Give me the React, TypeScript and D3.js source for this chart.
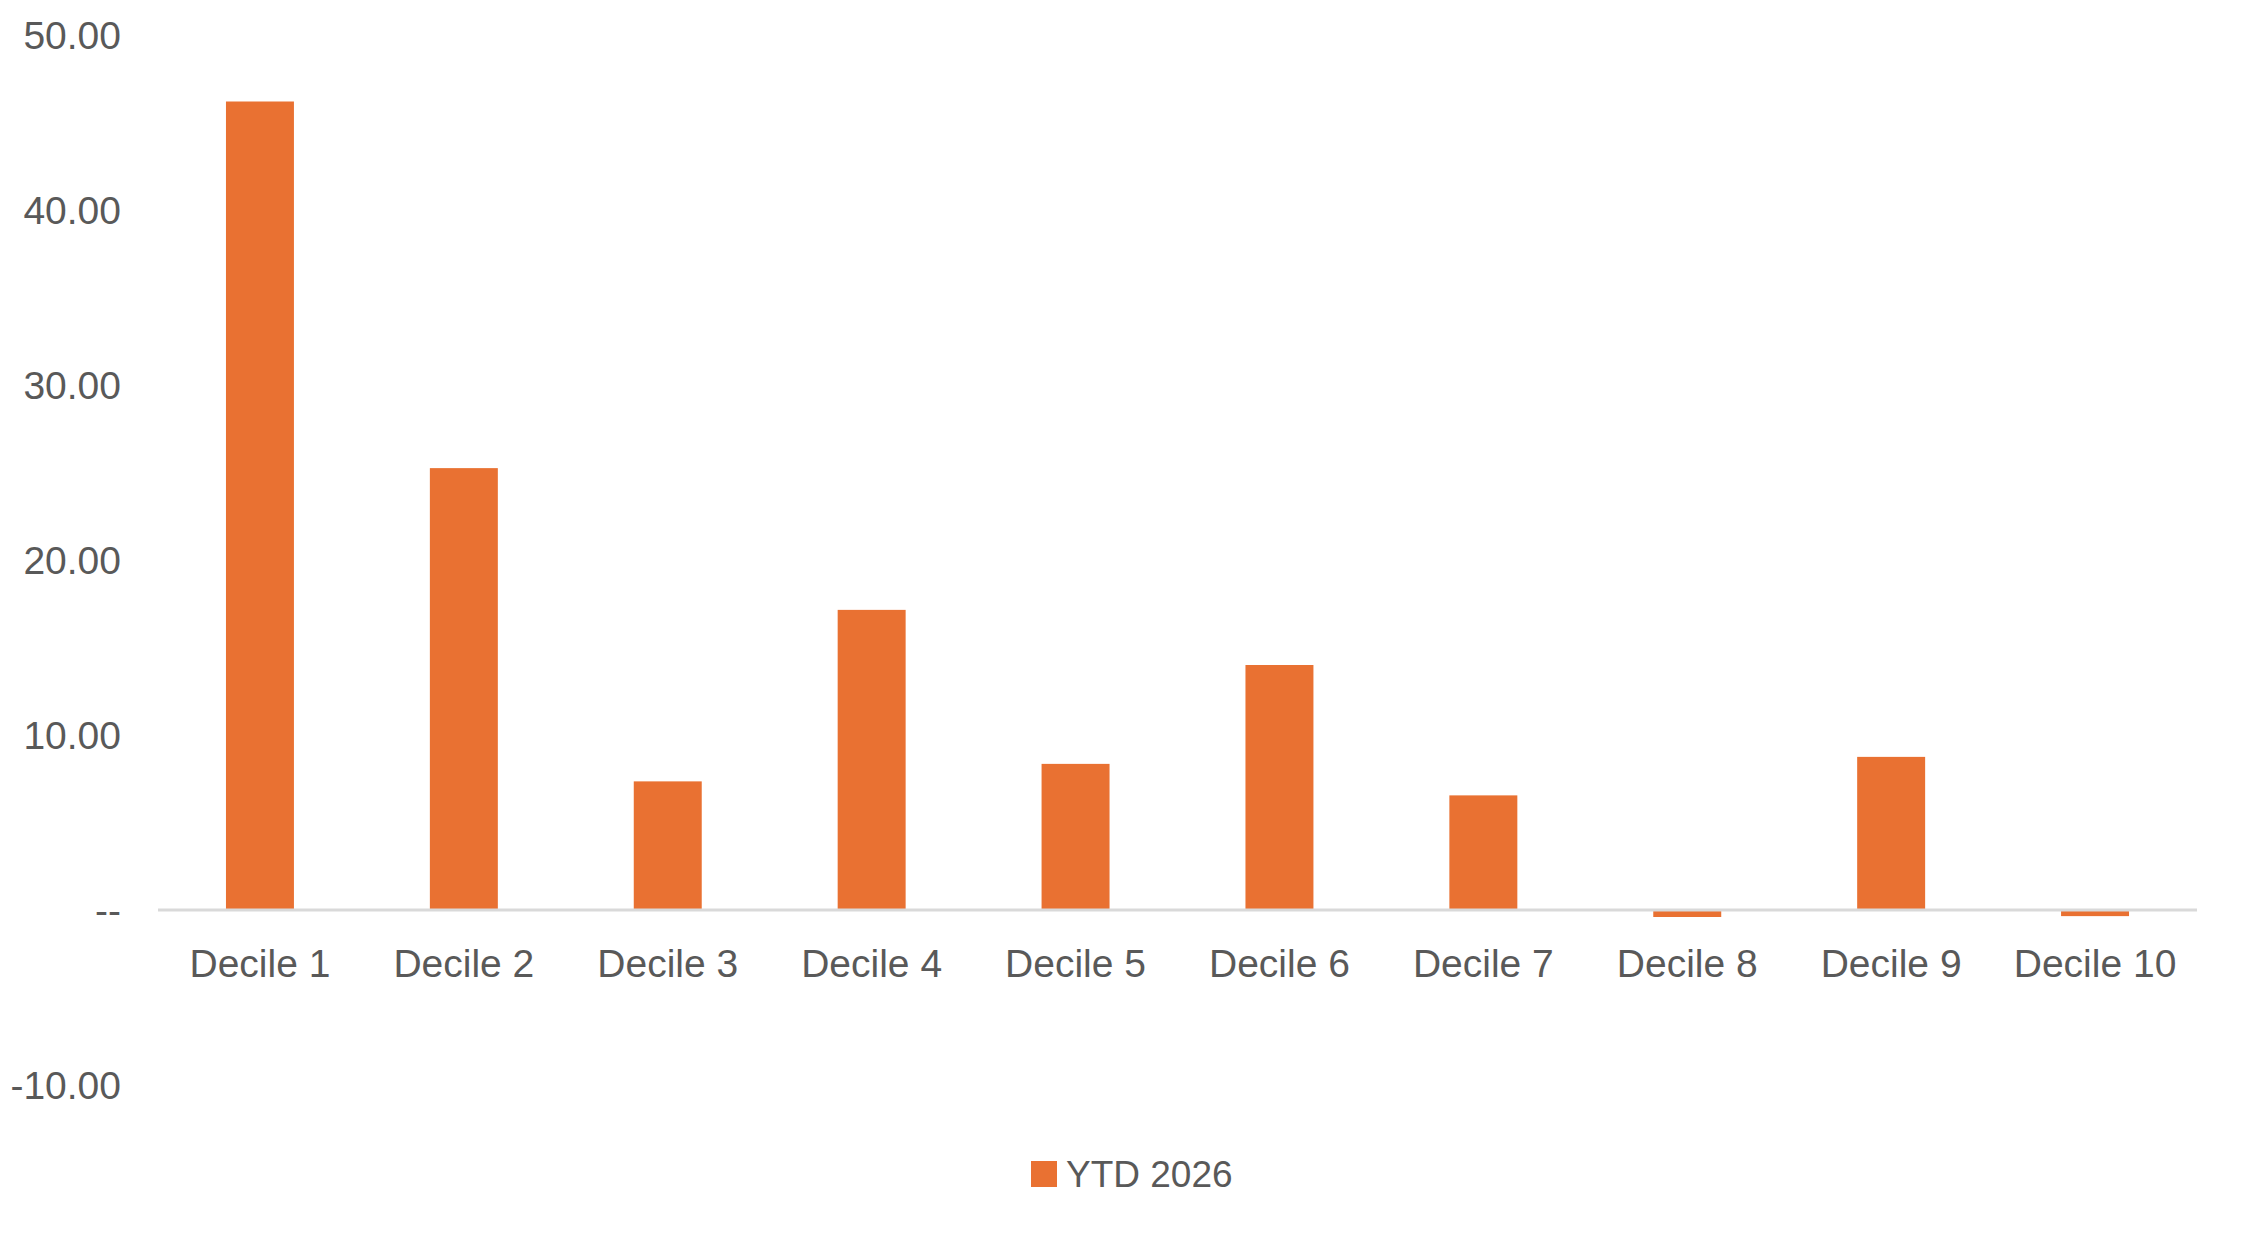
import * as d3 from "d3";

// data
const categories = [
  "Decile 1", "Decile 2", "Decile 3", "Decile 4", "Decile 5",
  "Decile 6", "Decile 7", "Decile 8", "Decile 9", "Decile 10",
];
const ytd2026 = [46.2, 25.25, 7.35, 17.15, 8.35, 14.0, 6.55, -0.4, 8.75, -0.35];
const yTicks = [-10, 0, 10, 20, 30, 40, 50];
const seriesName = "YTD 2026";

const W = 2248;
const H = 1241;
const FONT = '"Liberation Sans", Arial, sans-serif';
const TEXT = "#595959";
const ORANGE = "#E97132";

const App = () => {
  const x = d3.scaleBand<string>()
    .domain(categories)
    .range([158, 2197])
    .paddingInner(2 / 3)
    .paddingOuter(1 / 3);

  const y = d3.scaleLinear().domain([-10, 50]).range([1085, 35]);

  // Excel-style: zero shown as "--", plain hyphen for negatives
  const fmt = (v: number) => (v === 0 ? "--" : v.toFixed(2));

  return (
    <svg
      width={W}
      height={H}
      style={{ position: "absolute", left: 0, top: 0, background: "#fff" }}
      fontFamily={FONT}
    >
      {/* y tick labels, no gridlines */}
      {yTicks.map((t) => (
        <text key={t} x={121} y={y(t) + 14} textAnchor="end" fontSize={39} fill={TEXT}>
          {fmt(t)}
        </text>
      ))}

      {/* bars */}
      {ytd2026.map((v, i) => (
        <rect
          key={categories[i]}
          x={x(categories[i])}
          y={y(Math.max(0, v))}
          width={x.bandwidth()}
          height={Math.abs(y(v) - y(0))}
          fill={ORANGE}
        />
      ))}

      {/* zero axis line */}
      <line x1={x.range()[0]} x2={x.range()[1]} y1={y(0)} y2={y(0)} stroke="#d9d9d9" strokeWidth={3} />

      {/* category labels */}
      {categories.map((c) => (
        <text
          key={c}
          x={(x(c) ?? 0) + x.bandwidth() / 2}
          y={977}
          textAnchor="middle"
          fontSize={39}
          fill={TEXT}
        >
          {c}
        </text>
      ))}

      {/* legend */}
      <g>
        <rect x={1031} y={1161} width={26} height={26} fill={ORANGE} />
        <text x={1066} y={1187} fontSize={37} fill={TEXT}>
          {seriesName}
        </text>
      </g>
    </svg>
  );
};

export default App;
